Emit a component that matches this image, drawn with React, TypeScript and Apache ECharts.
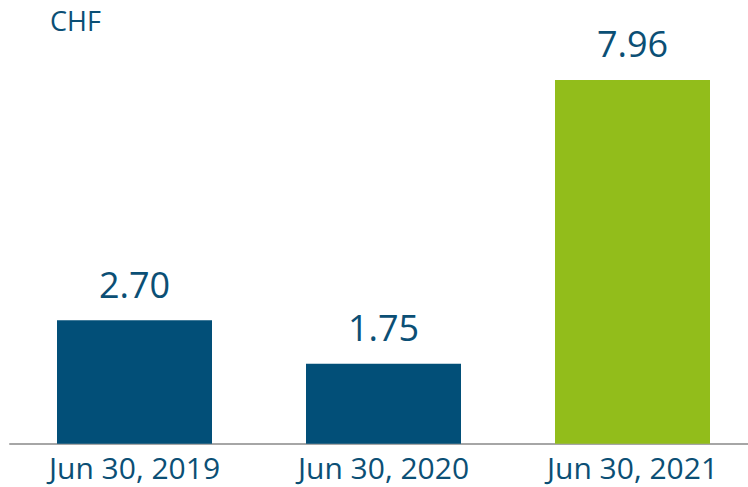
import React, { useEffect, useRef } from "react";
import * as echarts from "echarts";

const categories = ["Jun 30, 2019", "Jun 30, 2020", "Jun 30, 2021"];
const values = [2.7, 1.75, 7.96];
const barColors = ["#024f78", "#024f78", "#92bd1b"];
const unitLabel = "CHF";

export default function App() {
  const ref = useRef<HTMLDivElement>(null);
  useEffect(() => {
    document.body.style.margin = "0";
    document.body.style.overflow = "hidden";
    document.documentElement.style.overflow = "hidden";
    const chart = echarts.init(ref.current!, null, { renderer: "svg" });
    const textColor = "#0b4f75";
    const font = "'Open Sans', 'Noto Sans', sans-serif";
    chart.setOption({
      animation: false,
      grid: { left: 10, right: 0, top: 32.4, bottom: 43.3 },
      graphic: [
        {
          type: "text",
          left: 50,
          top: 7,
          style: { text: unitLabel, fill: textColor, font: `normal 27px ${font}` },
        },
      ],
      xAxis: {
        type: "category",
        data: categories,
        axisLine: { show: true, lineStyle: { color: "#a6a6a6", width: 2 } },
        axisTick: { show: false },
        axisLabel: { color: textColor, fontSize: 30, fontFamily: font, margin: 9 },
      },
      yAxis: {
        type: "value",
        min: 0,
        max: 9,
        show: false,
        splitLine: { show: false },
      },
      series: [
        {
          type: "bar",
          barWidth: 155,
          data: values.map((v, i) => ({ value: v, itemStyle: { color: barColors[i] } })),
          label: {
            show: true,
            position: "top",
            distance: 18,
            color: textColor,
            fontSize: 36,
            fontFamily: font,
            formatter: (p: any) => p.value.toFixed(2),
          },
        },
      ],
    });
    return () => chart.dispose();
  }, []);
  return <div ref={ref} style={{ width: 757, height: 487 }} />;
}
